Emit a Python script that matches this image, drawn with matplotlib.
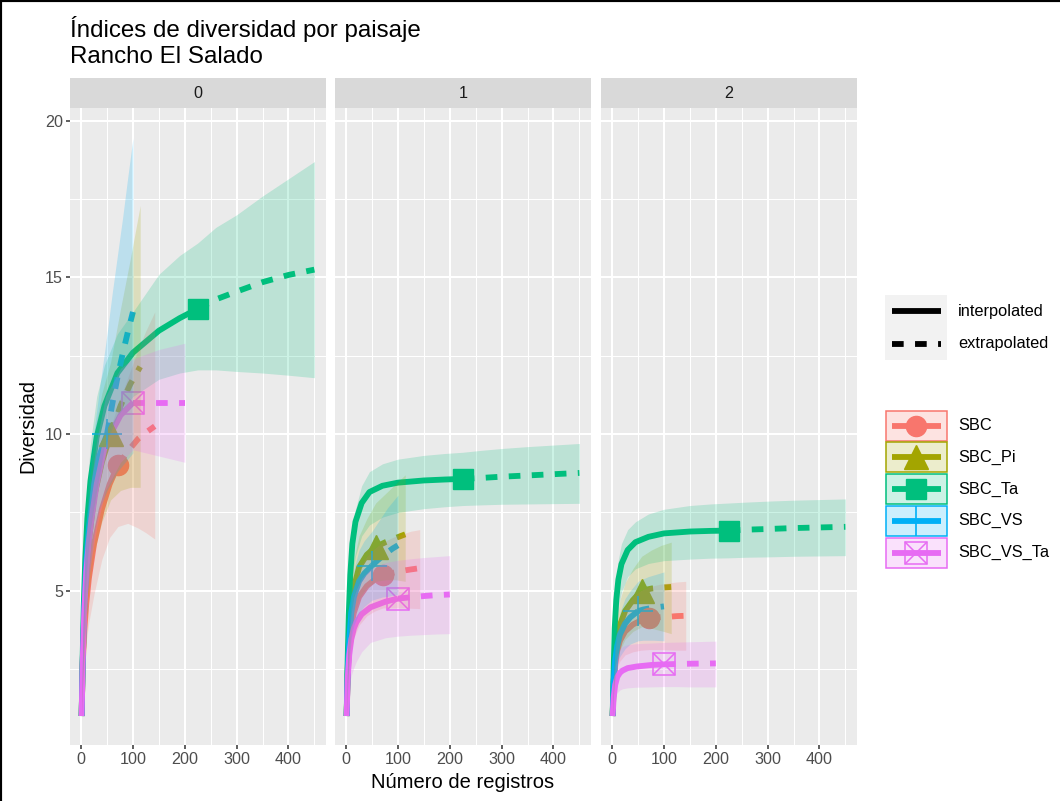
import numpy as np
import matplotlib.pyplot as plt
from matplotlib.patches import Rectangle
from matplotlib.lines import Line2D
from matplotlib.colors import to_rgba

plt.rcParams['font.family'] = ['Liberation Sans', 'DejaVu Sans']

# assemblages, observed sample sizes and orders q
groups = ['SBC', 'SBC_Pi', 'SBC_Ta', 'SBC_VS', 'SBC_VS_Ta']
colors = ['#F8766D', '#A3A500', '#00BF7D', '#00B0F6', '#E76BF3']
n_obs = [71, 57, 225, 50, 100]
orders = ['0', '1', '2']
methods = ['interpolated', 'extrapolated']

# sample sizes (interpolated up to n_obs, extrapolated beyond)
sizes = {
    'SBC':       [1, 3, 6, 10, 15, 25, 40, 55, 71, 90, 110, 125, 142],
    'SBC_Pi':    [1, 3, 6, 10, 15, 25, 40, 57, 76, 95, 114],
    'SBC_Ta':    [1, 3, 5, 8, 12, 18, 30, 45, 70, 100, 150, 190, 225, 260, 300, 350, 400, 450],
    'SBC_VS':    [1, 3, 6, 10, 15, 25, 35, 50, 60, 70, 80, 90, 100],
    'SBC_VS_Ta': [1, 3, 6, 10, 15, 20, 30, 47, 76, 100, 125, 150, 175, 200],
}

# q = 0
est_q0 = {
    'SBC':       [1, 2.6, 3.7, 4.6, 5.4, 6.5, 7.6, 8.4, 9.0, 9.45, 9.85, 10.05, 10.25],
    'SBC_Pi':    [1, 2.7, 4.2, 5.6, 6.6, 8.0, 9.1, 10.0, 10.9, 11.6, 12.15],
    'SBC_Ta':    [1, 2.9, 4.5, 6.0, 7.3, 8.5, 9.9, 10.9, 11.95, 12.6, 13.3, 13.7, 14.0, 14.3, 14.55, 14.85, 15.08, 15.25],
    'SBC_VS':    [1, 2.7, 4.4, 5.9, 7.0, 8.4, 9.3, 10.0, 10.95, 11.8, 12.55, 13.25, 13.9],
    'SBC_VS_Ta': [1, 2.7, 4.3, 5.6, 6.6, 7.3, 8.4, 9.7, 10.6, 11.0, 11.0, 11.0, 11.0, 11.0],
}
lo_q0 = {
    'SBC':       [1, 2.0, 2.8, 3.4, 4.0, 4.9, 6.0, 6.7, 7.05, 7.15, 7.0, 6.85, 6.65],
    'SBC_Pi':    [1, 2.1, 3.2, 4.2, 5.0, 6.2, 7.2, 7.9, 8.2, 8.3, 8.3],
    'SBC_Ta':    [1, 2.5, 3.8, 5.0, 6.0, 7.0, 8.2, 9.6, 10.6, 11.2, 11.75, 11.95, 12.05, 12.05, 12.0, 11.95, 11.88, 11.8],
    'SBC_VS':    [1, 2.2, 3.5, 4.6, 5.4, 6.8, 7.6, 8.2, 8.5, 8.8, 9.0, 9.2, 9.4],
    'SBC_VS_Ta': [1, 2.2, 3.5, 4.5, 5.4, 6.0, 7.0, 8.2, 9.1, 9.5, 9.4, 9.3, 9.2, 9.1],
}
hi_q0 = {
    'SBC':       [1, 3.2, 4.6, 5.8, 6.8, 8.1, 9.2, 10.1, 10.95, 11.8, 12.7, 13.3, 13.9],
    'SBC_Pi':    [1, 3.3, 5.2, 7.0, 8.3, 10.0, 11.3, 12.3, 14.0, 15.6, 17.3],
    'SBC_Ta':    [1, 3.3, 5.1, 6.9, 8.4, 9.7, 11.2, 12.2, 13.2, 13.9, 15.1, 15.7, 16.1, 16.6, 17.0, 17.6, 18.15, 18.7],
    'SBC_VS':    [1, 3.2, 5.4, 7.3, 8.7, 10.1, 11.4, 13.2, 14.5, 15.7, 16.9, 18.2, 19.45],
    'SBC_VS_Ta': [1, 3.2, 5.1, 6.7, 7.8, 8.6, 9.8, 11.2, 12.1, 12.4, 12.55, 12.7, 12.8, 12.9],
}

# q = 1
est_q1 = {
    'SBC':       [1, 2.3, 3.2, 3.9, 4.3, 4.8, 5.15, 5.35, 5.5, 5.57, 5.64, 5.68, 5.72],
    'SBC_Pi':    [1, 2.5, 3.6, 4.5, 5.1, 5.75, 6.15, 6.4, 6.55, 6.68, 6.8],
    'SBC_Ta':    [1, 2.8, 4.2, 5.5, 6.5, 7.2, 7.8, 8.15, 8.35, 8.45, 8.52, 8.55, 8.57, 8.6, 8.64, 8.68, 8.72, 8.76],
    'SBC_VS':    [1, 2.4, 3.4, 4.3, 4.8, 5.3, 5.55, 5.8, 5.96, 6.1, 6.23, 6.35, 6.45],
    'SBC_VS_Ta': [1, 2.2, 2.95, 3.45, 3.8, 4.0, 4.25, 4.47, 4.65, 4.75, 4.79, 4.83, 4.86, 4.88],
}
lo_q1 = {
    'SBC':       [1, 1.9, 2.6, 3.1, 3.5, 3.9, 4.2, 4.35, 4.45, 4.45, 4.45, 4.44, 4.43],
    'SBC_Pi':    [1, 2.1, 3.0, 3.7, 4.2, 4.75, 5.1, 5.3, 5.35, 5.35, 5.3],
    'SBC_Ta':    [1, 2.4, 3.6, 4.6, 5.5, 6.1, 6.75, 7.1, 7.35, 7.5, 7.62, 7.68, 7.72, 7.74, 7.76, 7.77, 7.78, 7.79],
    'SBC_VS':    [1, 2.0, 2.8, 3.5, 3.9, 4.3, 4.5, 4.7, 4.75, 4.8, 4.82, 4.85, 4.88],
    'SBC_VS_Ta': [1, 1.6, 2.0, 2.3, 2.55, 2.75, 3.05, 3.35, 3.5, 3.55, 3.58, 3.6, 3.62, 3.63],
}
hi_q1 = {
    'SBC':       [1, 2.7, 3.8, 4.7, 5.1, 5.7, 6.1, 6.35, 6.55, 6.7, 6.82, 6.9, 6.95],
    'SBC_Pi':    [1, 2.9, 4.2, 5.3, 6.0, 6.75, 7.3, 7.8, 8.1, 8.4, 8.7],
    'SBC_Ta':    [1, 3.1, 4.6, 5.9, 6.8, 7.6, 8.35, 8.8, 9.05, 9.2, 9.32, 9.38, 9.42, 9.48, 9.54, 9.6, 9.65, 9.7],
    'SBC_VS':    [1, 2.8, 4.0, 5.1, 5.7, 6.3, 6.6, 6.9, 7.15, 7.4, 7.65, 7.85, 8.05],
    'SBC_VS_Ta': [1, 2.6, 3.6, 4.3, 4.8, 5.05, 5.4, 5.7, 5.9, 5.97, 6.02, 6.06, 6.09, 6.12],
}

# q = 2
est_q2 = {
    'SBC':       [1, 2.0, 2.65, 3.1, 3.4, 3.7, 3.92, 4.05, 4.12, 4.15, 4.17, 4.19, 4.2],
    'SBC_Pi':    [1, 2.1, 2.9, 3.5, 3.9, 4.35, 4.7, 5.0, 5.07, 5.1, 5.12],
    'SBC_Ta':    [1, 2.5, 3.8, 4.7, 5.35, 5.85, 6.3, 6.55, 6.72, 6.83, 6.89, 6.91, 6.92, 6.95, 6.97, 7.0, 7.02, 7.04],
    'SBC_VS':    [1, 2.1, 2.8, 3.25, 3.6, 3.95, 4.15, 4.35, 4.4, 4.43, 4.46, 4.48, 4.5],
    'SBC_VS_Ta': [1, 1.6, 2.0, 2.25, 2.38, 2.45, 2.53, 2.58, 2.63, 2.65, 2.66, 2.67, 2.675, 2.68],
}
lo_q2 = {
    'SBC':       [1, 1.7, 2.2, 2.55, 2.75, 2.95, 3.05, 3.1, 3.12, 3.12, 3.11, 3.1, 3.1],
    'SBC_Pi':    [1, 1.8, 2.4, 2.8, 3.1, 3.45, 3.7, 3.85, 3.8, 3.72, 3.63],
    'SBC_Ta':    [1, 2.2, 3.2, 3.9, 4.5, 4.95, 5.45, 5.7, 5.87, 5.96, 6.01, 6.04, 6.05, 6.07, 6.08, 6.1, 6.11, 6.12],
    'SBC_VS':    [1, 1.8, 2.3, 2.65, 2.9, 3.15, 3.3, 3.4, 3.42, 3.42, 3.42, 3.41, 3.4],
    'SBC_VS_Ta': [1, 1.35, 1.6, 1.75, 1.83, 1.87, 1.9, 1.92, 1.93, 1.94, 1.94, 1.93, 1.93, 1.93],
}
hi_q2 = {
    'SBC':       [1, 2.3, 3.1, 3.65, 4.0, 4.45, 4.8, 5.0, 5.12, 5.2, 5.25, 5.28, 5.3],
    'SBC_Pi':    [1, 2.4, 3.4, 4.2, 4.7, 5.25, 5.7, 6.1, 6.3, 6.45, 6.55],
    'SBC_Ta':    [1, 2.8, 4.3, 5.3, 6.0, 6.5, 6.95, 7.2, 7.45, 7.6, 7.72, 7.77, 7.8, 7.83, 7.86, 7.89, 7.91, 7.93],
    'SBC_VS':    [1, 2.4, 3.3, 3.85, 4.3, 4.75, 5.0, 5.3, 5.38, 5.45, 5.5, 5.55, 5.6],
    'SBC_VS_Ta': [1, 2.0, 2.6, 2.95, 3.15, 3.22, 3.28, 3.31, 3.33, 3.35, 3.36, 3.37, 3.38, 3.39],
}

estimates = [est_q0, est_q1, est_q2]
lowers = [lo_q0, lo_q1, lo_q2]
uppers = [hi_q0, hi_q1, hi_q2]

W, H = 1060, 801
LW = 4.2
DASH = (2.0, 1.95)
TICK_FS = 11.6
marker_kw = {
    'SBC': dict(marker='o', ms=14.5),
    'SBC_Pi': dict(marker='^', ms=17),
    'SBC_Ta': dict(marker='s', ms=15),
    'SBC_VS': dict(marker='+', ms=21, mew=1.2),
    'SBC_VS_Ta': dict(marker='s', ms=16, mfc='none', mew=1.1),
}


def draw_marker(ax, g, c, x, y, z=4):
    ax.plot([x], [y], color=c, ls='none', zorder=z, **marker_kw[g])
    if g == 'SBC_VS_Ta':
        ax.plot([x], [y], color=c, ls='none', marker='x', ms=16, mew=1.1, zorder=z)


fig = plt.figure(figsize=(W / 100, H / 100), dpi=100)

panel_left = [70, 335, 601]
pw = 256
p_top, p_bot = 108, 745

for k, q in enumerate(orders):
    ax = fig.add_axes([panel_left[k] / W, (H - p_bot) / H, pw / W, (p_bot - p_top) / H])
    ax.set_facecolor('#EBEBEB')
    for s in ax.spines.values():
        s.set_visible(False)
    ax.set_xlim(-21.45, 472.45)
    ax.set_ylim(0.075, 20.41)
    ax.set_xticks([0, 100, 200, 300, 400])
    ax.set_xticks([50, 150, 250, 350, 450], minor=True)
    ax.set_yticks([5, 10, 15, 20])
    ax.set_yticks([2.5, 7.5, 12.5, 17.5], minor=True)
    ax.grid(which='major', color='white', lw=1.5, zorder=0)
    ax.grid(which='minor', color='white', lw=0.75, zorder=0)
    ax.set_axisbelow(True)
    ax.tick_params(which='major', length=3, width=1.1, color='#333333',
                   labelcolor='#4D4D4D', labelsize=TICK_FS, pad=2)
    ax.tick_params(which='minor', length=0)
    if k > 0:
        ax.tick_params(axis='y', left=False, labelleft=False)

    est, lo, hi = estimates[k], lowers[k], uppers[k]
    for g, c, n in zip(groups, colors, n_obs):
        x = np.array(sizes[g])
        y = np.array(est[g])
        i = sizes[g].index(n)
        ax.plot(x[:i + 1], y[:i + 1], color=c, lw=LW, solid_capstyle='butt', zorder=3)
        ax.plot(x[i:], y[i:], color=c, lw=LW, ls='--', dashes=DASH, zorder=3)
        draw_marker(ax, g, c, x[i], y[i])
    for g, c in zip(groups, colors):
        ax.fill_between(sizes[g], lo[g], hi[g], color=c, alpha=0.2, lw=0, zorder=5)

    sax = fig.add_axes([panel_left[k] / W, (H - p_top) / H, pw / W, 30 / H])
    sax.set_facecolor('#D9D9D9')
    sax.set_xticks([])
    sax.set_yticks([])
    for s in sax.spines.values():
        s.set_visible(False)
    sax.text(0.5, 0.5, q, ha='center', va='center', fontsize=TICK_FS, color='#1A1A1A',
             transform=sax.transAxes)

# titles
fig.text(70 / W, 1 - 37 / H, 'Índices de diversidad por paisaje',
         ha='left', va='baseline', fontsize=17.4, color='black')
fig.text(70 / W, 1 - 63 / H, 'Rancho El Salado',
         ha='left', va='baseline', fontsize=17.4, color='black')
fig.text(28 / W, 1 - 426 / H, 'Diversidad', rotation=90, ha='center', va='center',
         fontsize=14.2)
fig.text(463 / W, 1 - 783 / H, 'Número de registros', ha='center', va='center',
         fontsize=14.5)

# legends, drawn in an overlay axes measured in pixels
lax = fig.add_axes([0, 0, 1, 1])
lax.set_xlim(0, W)
lax.set_ylim(H, 0)
lax.axis('off')
LEG_FS = 11.8

key_x0, key_w = 885, 62
line_x = [key_x0 + 6.5, key_x0 + key_w - 6]
lt_top, lt_h = 295, 32.5
lax.add_patch(Rectangle((key_x0, lt_top), key_w, 2 * lt_h, fc='#F2F2F2', ec='none'))
for j, m in enumerate(methods):
    yc = lt_top + lt_h * (j + 0.5)
    if m == 'interpolated':
        lax.plot(line_x, [yc, yc], color='black', lw=LW, solid_capstyle='butt')
    else:
        lax.plot(line_x, [yc, yc], color='black', lw=LW, ls='--', dashes=DASH)
    lax.text(958, yc, m, ha='left', va='center', fontsize=LEG_FS)

col_top, col_h, col_gap = 410.5, 30, 1.8
for j, (g, c) in enumerate(zip(groups, colors)):
    y0 = col_top + j * (col_h + col_gap)
    yc = y0 + col_h / 2
    lax.add_patch(Rectangle((key_x0 + 0.5, y0), key_w - 1, col_h, fc=to_rgba(c, 0.2),
                            ec=c, lw=1.1, zorder=1))
    lax.plot(line_x, [yc, yc], color=c, lw=LW, solid_capstyle='butt', zorder=2)
    if g == 'SBC_VS':
        lax.plot([key_x0 + key_w / 2], [yc], color=c, marker='+', ms=21, mew=1.2, zorder=3)
    else:
        draw_marker(lax, g, c, key_x0 + key_w / 2, yc, z=3)
    lax.text(958, yc, g, ha='left', va='center', fontsize=LEG_FS)

# outer frame (left and top)
for xs, ys in [([0, 0], [0, 1]), ([0, 1], [1, 1])]:
    fig.add_artist(Line2D(xs, ys, transform=fig.transFigure, color='black', lw=3))

fig.savefig('out.png', dpi=100)
